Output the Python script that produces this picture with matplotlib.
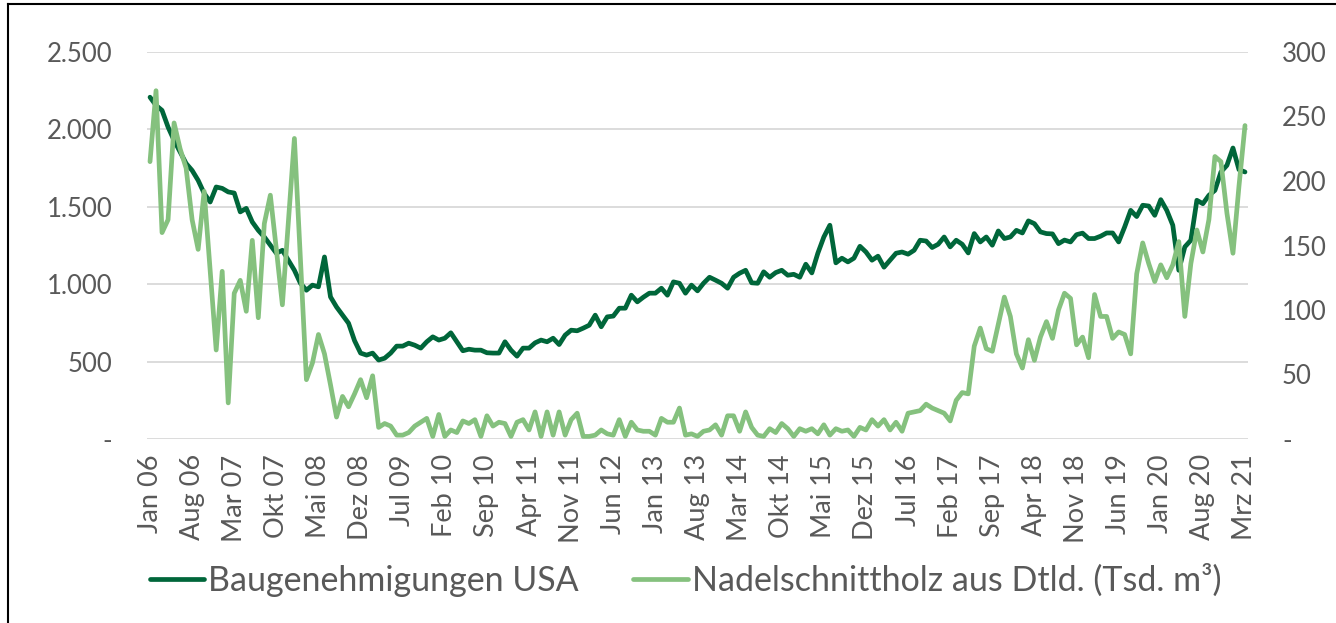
import numpy as np
import matplotlib
matplotlib.use("Agg")
import matplotlib.pyplot as plt
from matplotlib.ticker import FuncFormatter
from matplotlib.lines import Line2D

# ---------- data (monthly, Jan 06 .. Mrz 21) ----------
tick_labels = ["Jan 06", "Aug 06", "Mar 07", "Okt 07", "Mai 08", "Dez 08", "Jul 09",
               "Feb 10", "Sep 10", "Apr 11", "Nov 11", "Jun 12", "Jan 13", "Aug 13",
               "Mar 14", "Okt 14", "Mai 15", "Dez 15", "Jul 16", "Feb 17", "Sep 17",
               "Apr 18", "Nov 18", "Jun 19", "Jan 20", "Aug 20", "Mrz 21"]

# Baugenehmigungen USA (left axis)
permits_usa = [
    2208, 2155, 2123, 2015, 1929, 1854, 1780, 1735, 1671, 1587, 1531, 1628,
    1619, 1596, 1589, 1467, 1490, 1402, 1348, 1305, 1252, 1200, 1219, 1155,
    1090, 1006, 961, 994, 983, 1176, 918, 853, 800, 748, 635, 555,
    542, 555, 510, 522, 555, 600, 600, 619, 606, 587, 628, 660,
    639, 651, 686, 628, 570, 580, 574, 574, 557, 555, 555, 628,
    574, 535, 587, 587, 621, 639, 628, 651, 610, 671, 703, 699,
    716, 735, 800, 725, 789, 794, 845, 845, 929, 886, 916, 942,
    942, 974, 929, 1015, 1006, 942, 994, 957, 1006, 1045, 1026, 1006,
    974, 1045, 1071, 1090, 1009, 1006, 1080, 1045, 1075, 1090, 1058, 1064,
    1045, 1129, 1073, 1200, 1305, 1381, 1138, 1168, 1144, 1168, 1245, 1208,
    1155, 1181, 1110, 1155, 1200, 1208, 1194, 1219, 1284, 1279, 1237, 1258,
    1305, 1241, 1284, 1258, 1202, 1327, 1273, 1305, 1252, 1344, 1295, 1305,
    1348, 1331, 1409, 1391, 1338, 1327, 1325, 1262, 1285, 1273, 1320, 1330,
    1295, 1295, 1310, 1331, 1331, 1273, 1370, 1477, 1437, 1510, 1505, 1445,
    1546, 1477, 1381, 1090, 1241, 1284, 1542, 1520, 1574, 1606, 1725, 1768,
    1880, 1740, 1725,
]

# Nadelschnittholz aus Dtld. (Tsd. m³) (right axis)
softwood_de = [
    215, 270, 160, 170, 245, 225, 210, 170, 147, 192, 130, 69,
    130, 28, 113, 123, 99, 154, 94, 167, 189, 147, 104, 168,
    233, 139, 46, 59, 81, 66, 42, 17, 33, 25, 35, 46,
    32, 49, 9, 12, 10, 3, 3, 5, 10, 13, 16, 2,
    19, 2, 7, 5, 14, 12, 15, 2, 18, 10, 13, 12,
    2, 13, 15, 7, 21, 2, 21, 3, 21, 3, 15, 20,
    2, 2, 3, 7, 4, 3, 15, 2, 13, 7, 6, 6,
    3, 16, 13, 13, 24, 3, 4, 2, 6, 7, 11, 3,
    18, 18, 6, 21, 9, 3, 2, 8, 5, 12, 8, 2,
    8, 6, 8, 4, 11, 3, 8, 6, 7, 2, 9, 7,
    15, 10, 15, 7, 13, 6, 20, 21, 22, 27, 24, 22,
    20, 14, 30, 36, 35, 72, 86, 70, 68, 89, 110, 95,
    66, 55, 77, 61, 79, 91, 78, 100, 113, 109, 73, 79,
    63, 112, 95, 95, 78, 83, 81, 66, 128, 152, 136, 122,
    135, 125, 135, 153, 95, 136, 162, 145, 170, 219, 215, 175,
    144, 196, 243,
]

DARK = "#00663a"
LIGHT = "#85c17e"
TXT = "#595959"
FONT = "Lato"

plt.rcParams["font.family"] = [FONT, "DejaVu Sans"]

months = np.arange(len(permits_usa))

fig = plt.figure(figsize=(13.36, 6.23), dpi=100)
ax = fig.add_axes([147 / 1336, 1 - 439 / 623, (1248 - 147) / 1336, (439 - 52) / 623])
ax2 = ax.twinx()

ax.plot(months, permits_usa, color=DARK, lw=3.4, solid_joinstyle="round",
        solid_capstyle="round", label="Baugenehmigungen USA")
ax2.plot(months, softwood_de, color=LIGHT, lw=3.4, solid_joinstyle="round",
         solid_capstyle="round", label="Nadelschnittholz aus Dtld. (Tsd. m³)")

ax.set_xlim(-0.5, len(months) - 0.5)
ax.set_ylim(0, 2500)
ax2.set_ylim(0, 300)
ax.set_yticks(np.arange(0, 2501, 500))
ax2.set_yticks(np.arange(0, 301, 50))
ax.set_xticks(months[::7])
ax.set_xticklabels(tick_labels, rotation=90, fontsize=19.5, color=TXT)

def de_fmt(v, pos):
    if v == 0:
        return "-"
    return f"{int(v):,}".replace(",", ".")

ax.yaxis.set_major_formatter(FuncFormatter(de_fmt))
ax2.yaxis.set_major_formatter(FuncFormatter(de_fmt))

ax.grid(axis="y", color="#d9d9d9", lw=1.3)
ax.set_axisbelow(True)
for a in (ax, ax2):
    for s in a.spines.values():
        s.set_visible(False)
    a.tick_params(length=0, colors=TXT)
ax.tick_params(axis="y", pad=25, labelsize=18.5)
ax2.tick_params(axis="y", pad=24.5, labelsize=18.5)
ax.tick_params(axis="x", pad=11)

h1, l1 = ax.get_legend_handles_labels()
h2, l2 = ax2.get_legend_handles_labels()
fig.legend(h1 + h2, l1 + l2, loc="center", bbox_to_anchor=(0.513, 0.069), ncol=2,
           frameon=False, fontsize=24.5, labelcolor=TXT, handlelength=1.6,
           handletextpad=0.12, columnspacing=1.6)

# outer frame (left and top edges visible)
fig.add_artist(Line2D([8 / 1336, 8 / 1336], [0, 1 - 4 / 623], color="black", lw=1.5,
                      transform=fig.transFigure))
fig.add_artist(Line2D([8 / 1336, 1], [1 - 4 / 623, 1 - 4 / 623], color="black", lw=1.5,
                      transform=fig.transFigure))

fig.savefig("out.png", dpi=100)
